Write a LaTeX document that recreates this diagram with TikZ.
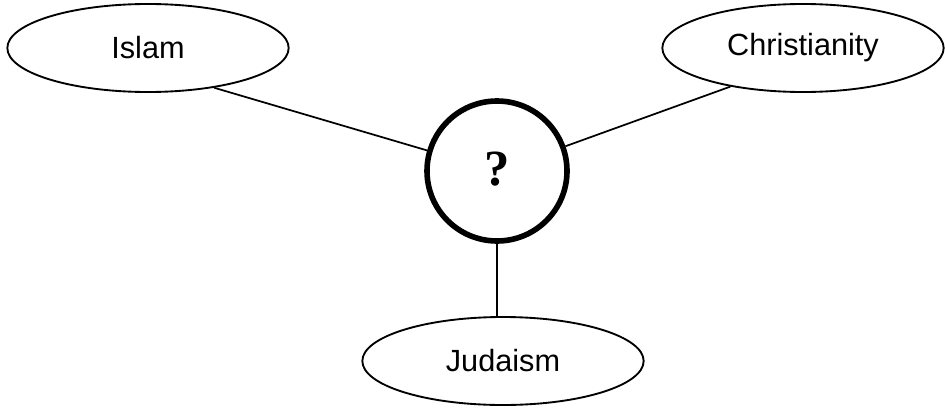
\documentclass[tikz,border=0pt]{standalone}
\usepackage{fontspec}
\setmainfont{Liberation Sans}
\newfontfamily\qfont{Liberation Serif}
\usetikzlibrary{shapes.geometric}
\begin{document}
\begin{tikzpicture}[x=0.75pt,y=-0.75pt,
  faith/.style={draw,ellipse,line width=1.4pt,inner sep=0pt,minimum width=211pt,minimum height=66pt,font=\fontsize{23}{27}\selectfont},
  hub/.style={draw,circle,line width=4.2pt,inner sep=0pt,minimum size=105pt,font=\qfont\bfseries\fontsize{38}{44}\selectfont},
  link/.style={line width=1.3pt}]
\useasboundingbox (0,0) rectangle (945,407);
\node[faith] (I) at (148,48) {Islam};
\node[faith] (C) at (803,48) {Christianity};
\node[hub] (Q) at (497,171) {\raisebox{4pt}{?}};
\node[faith] (J) at (503,361) {Judaism};
\draw[link] (I.-31) -- (Q);
\draw[link] (C.-152) -- (Q);
\draw[link] (Q) -- (Q |- J.north);
\end{tikzpicture}
\end{document}
